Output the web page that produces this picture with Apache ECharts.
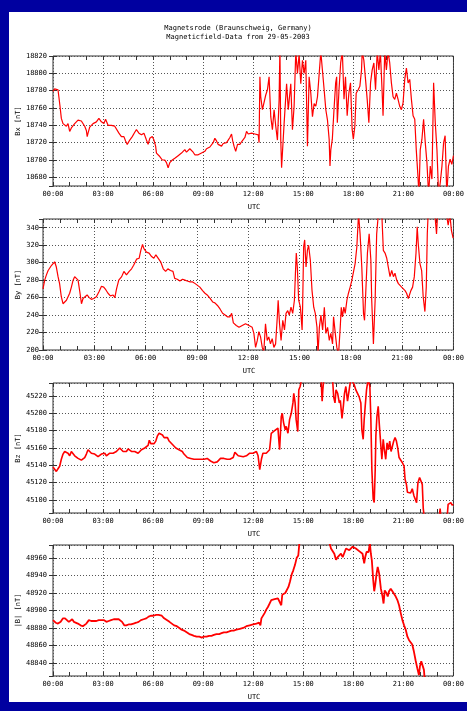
<!DOCTYPE html>
<html>
<head>
<meta charset="utf-8">
<script src="https://cdn.jsdelivr.net/npm/echarts@6/dist/echarts.min.js"></script>
<style>
  html, body { margin: 0; padding: 0; background: #0000a0; }
  #chart { width: 467px; height: 711px; }
</style>
</head>
<body>
<div id="chart"></div>
<script>
// Magnetometer record, Magnetsrode, 29-05-2003. Time in hours UTC, field in nT.
const bxData = [
  [0,18779],[0.1,18782],[0.2,18784],[0.3,18781],[0.42,18762],[0.5,18748],[0.6,18742],[0.7,18741],[0.8,18739],[0.9,18742],
  [1.0,18733],[1.1,18737],[1.2,18739],[1.3,18742],[1.4,18744],[1.5,18746],[1.6,18747],[1.7,18745],[1.8,18743],[1.9,18739],
  [2.0,18734],[2.05,18727],[2.1,18731],[2.2,18738],[2.3,18740],[2.4,18742],[2.5,18741],[2.6,18744],[2.75,18748],[2.9,18744],
  [3.05,18742],[3.15,18747],[3.3,18740],[3.4,18741],[3.5,18740],[3.6,18738],[3.7,18739],[3.8,18737],[3.95,18731],[4.1,18727],
  [4.25,18727],[4.35,18722],[4.45,18718],[4.6,18723],[4.75,18727],[4.9,18732],[5.0,18735],[5.15,18731],[5.3,18729],[5.45,18731],
  [5.6,18723],[5.7,18718],[5.8,18725],[5.95,18727],[6.05,18723],[6.15,18716],[6.2,18708],[6.3,18706],[6.4,18704],[6.55,18700],
  [6.7,18700],[6.8,18697],[6.9,18691],[7.0,18697],[7.15,18700],[7.3,18702],[7.4,18701],[7.5,18705],[7.6,18704],[7.7,18708],
  [7.8,18707],[7.9,18712],[8.0,18709],[8.1,18710],[8.2,18713],[8.3,18711],[8.4,18709],[8.5,18706],[8.6,18708],[8.7,18706],
  [8.8,18707],[8.9,18708],[9.0,18710],[9.1,18710],[9.2,18713],[9.3,18712],[9.4,18715],[9.5,18717],[9.6,18720],[9.7,18725],
  [9.8,18722],[9.9,18718],[10.0,18716],[10.1,18716],[10.2,18719],[10.3,18718],[10.4,18720],[10.5,18723],[10.6,18726],[10.7,18730],
  [10.77,18722],[10.85,18716],[10.95,18710],[11.06,18718],[11.2,18718],[11.3,18721],[11.4,18720],[11.5,18726],[11.6,18733],[11.7,18730],
  [11.8,18729],[11.9,18731],[12.0,18729],[12.1,18730],[12.2,18731],[12.3,18729],[12.35,18720],[12.4,18796],[12.45,18773],[12.55,18758],
  [12.65,18756],[12.75,18775],[12.85,18781],[12.95,18796],[13.05,18750],[13.15,18735],[13.25,18758],[13.35,18739],[13.45,18723],[13.55,18769],
  [13.6,18830],[13.65,18723],[13.7,18691],[13.85,18742],[14.0,18788],[14.1,18758],[14.25,18788],[14.35,18735],[14.45,18762],[14.55,18825],
  [14.65,18800],[14.75,18822],[14.85,18788],[14.95,18815],[15.05,18800],[15.15,18815],[15.25,18716],[15.35,18796],[15.45,18777],[15.55,18750],
  [15.65,18765],[15.75,18762],[15.85,18773],[15.95,18771],[16.05,18825],[16.15,18803],[16.25,18781],[16.35,18758],[16.45,18746],[16.55,18724],
  [16.6,18693],[16.65,18712],[16.74,18724],[16.84,18758],[16.94,18789],[17.0,18796],[17.04,18743],[17.14,18781],[17.24,18812],[17.34,18825],
  [17.44,18770],[17.53,18796],[17.63,18751],[17.73,18777],[17.83,18789],[17.93,18735],[18.0,18724],[18.09,18739],[18.17,18777],[18.29,18781],
  [18.39,18785],[18.49,18804],[18.53,18825],[18.63,18815],[18.73,18793],[18.83,18770],[18.93,18743],[19.03,18789],[19.13,18804],[19.23,18812],
  [19.33,18781],[19.43,18825],[19.53,18804],[19.62,18825],[19.72,18781],[19.78,18751],[19.88,18825],[19.98,18804],[20.08,18825],[20.18,18812],
  [20.28,18789],[20.38,18773],[20.48,18770],[20.58,18777],[20.68,18770],[20.78,18762],[20.88,18758],[20.98,18766],[21.08,18793],[21.18,18806],
  [21.28,18789],[21.38,18793],[21.48,18770],[21.58,18751],[21.68,18747],[21.77,18712],[21.87,18682],[21.93,18660],[22.01,18712],[22.11,18724],
  [22.21,18747],[22.31,18720],[22.41,18697],[22.51,18660],[22.61,18693],[22.71,18678],[22.81,18789],[22.91,18743],[23.01,18712],[23.11,18660],
  [23.21,18674],[23.31,18693],[23.41,18720],[23.5,18728],[23.6,18660],[23.7,18693],[23.8,18701],[23.9,18695],[24.0,18705]
];

const byData = [
  [0,270],[0.1,280],[0.2,286],[0.3,291],[0.4,293],[0.5,297],[0.6,299],[0.68,301],[0.78,295],[0.88,284],
  [0.97,276],[1.07,261],[1.17,253],[1.27,251],[1.37,257],[1.46,259],[1.56,265],[1.66,272],[1.76,280],[1.85,284],
  [1.95,285],[2.05,280],[2.15,267],[2.25,253],[2.34,259],[2.44,261],[2.58,263],[2.7,260],[2.83,258],[2.97,259],
  [3.12,261],[3.28,267],[3.42,273],[3.55,272],[3.67,269],[3.8,265],[3.94,262],[4.1,263],[4.2,260],[4.3,270],
  [4.43,280],[4.6,284],[4.73,290],[4.88,286],[5.04,290],[5.18,293],[5.3,297],[5.47,304],[5.62,305],[5.72,314],
  [5.82,321],[5.9,316],[6.05,312],[6.2,311],[6.35,307],[6.48,305],[6.6,309],[6.74,305],[6.88,301],[7.03,293],
  [7.17,290],[7.3,293],[7.45,291],[7.6,290],[7.7,282],[7.85,281],[8.0,279],[8.16,281],[8.3,280],[8.43,279],
  [8.6,278],[8.75,278],[8.9,276],[9.0,274],[9.17,272],[9.33,268],[9.47,265],[9.6,263],[9.77,259],[9.92,255],
  [10.05,254],[10.2,251],[10.35,247],[10.5,242],[10.65,240],[10.78,238],[10.93,238],[11.03,242],[11.13,231],[11.3,228],
  [11.46,226],[11.65,228],[11.84,230],[12.04,228],[12.23,226],[12.33,219],[12.43,203],[12.53,211],[12.62,221],[12.72,215],
  [12.82,203],[12.91,198],[13.01,230],[13.11,211],[13.2,215],[13.3,207],[13.4,213],[13.5,203],[13.6,207],[13.7,238],
  [13.75,257],[13.83,230],[13.92,211],[14.02,234],[14.12,223],[14.21,242],[14.31,245],[14.4,240],[14.5,249],[14.6,242],
  [14.7,257],[14.76,288],[14.81,311],[14.87,295],[14.95,257],[15.05,249],[15.15,223],[15.18,249],[15.24,318],[15.3,326],
  [15.38,295],[15.46,314],[15.53,320],[15.63,303],[15.73,268],[15.83,249],[15.92,242],[16.02,226],[16.08,195],[16.16,226],
  [16.25,240],[16.35,223],[16.45,249],[16.54,219],[16.64,226],[16.74,211],[16.83,219],[16.93,207],[16.99,238],[17.09,219],
  [17.18,203],[17.28,195],[17.38,226],[17.44,249],[17.51,238],[17.59,249],[17.67,242],[17.77,257],[17.86,265],[17.96,272],
  [18.06,280],[18.16,290],[18.25,299],[18.35,318],[18.45,356],[18.54,333],[18.64,295],[18.74,242],[18.8,234],[18.87,265],
  [18.97,311],[19.07,333],[19.17,303],[19.22,257],[19.32,207],[19.42,257],[19.51,333],[19.61,356],[19.71,358],[19.81,356],
  [19.9,314],[20.0,311],[20.1,305],[20.19,295],[20.29,284],[20.39,291],[20.49,284],[20.58,288],[20.68,280],[20.78,276],
  [20.87,274],[20.97,272],[21.07,270],[21.17,268],[21.26,265],[21.36,259],[21.42,257],[21.51,268],[21.61,272],[21.71,284],
  [21.81,311],[21.88,341],[21.94,322],[22.04,299],[22.14,291],[22.23,261],[22.33,244],[22.41,272],[22.47,333],[22.52,356],
  [22.72,358],[22.91,356],[23.01,333],[23.07,355],[23.3,358],[23.59,355],[23.69,343],[23.79,355],[23.88,337],[23.98,328]
];

const bzData = [
  [0,45138],[0.1,45136],[0.2,45133],[0.3,45136],[0.4,45139],[0.5,45147],[0.6,45153],[0.7,45156],[0.8,45156],[0.9,45154],
  [1.0,45151],[1.1,45156],[1.2,45155],[1.3,45151],[1.4,45150],[1.5,45148],[1.6,45146],[1.7,45146],[1.8,45145],[1.9,45149],
  [2.0,45153],[2.1,45158],[2.2,45157],[2.3,45154],[2.4,45154],[2.5,45153],[2.6,45151],[2.7,45150],[2.8,45151],[2.9,45153],
  [3.0,45151],[3.1,45154],[3.2,45151],[3.3,45153],[3.4,45154],[3.5,45154],[3.6,45154],[3.7,45154],[3.8,45156],[3.9,45158],
  [4.0,45160],[4.1,45158],[4.2,45156],[4.3,45155],[4.4,45156],[4.5,45159],[4.6,45158],[4.7,45156],[4.8,45155],[4.9,45156],
  [5.0,45154],[5.1,45154],[5.2,45156],[5.3,45158],[5.4,45159],[5.5,45160],[5.6,45160],[5.7,45163],[5.77,45169],[5.86,45165],
  [5.96,45164],[6.06,45165],[6.16,45168],[6.26,45174],[6.36,45177],[6.46,45177],[6.56,45175],[6.66,45172],[6.76,45170],[6.86,45172],
  [6.96,45168],[7.06,45166],[7.16,45164],[7.26,45162],[7.36,45160],[7.46,45158],[7.55,45158],[7.65,45156],[7.75,45156],[7.85,45153],
  [7.95,45151],[8.05,45149],[8.15,45149],[8.25,45148],[8.35,45148],[8.45,45147],[8.55,45148],[8.65,45147],[8.75,45146],[8.85,45147],
  [8.95,45146],[9.05,45147],[9.15,45146],[9.24,45148],[9.34,45146],[9.44,45145],[9.54,45144],[9.64,45143],[9.74,45141],[9.84,45144],
  [9.94,45146],[10.04,45148],[10.14,45148],[10.24,45148],[10.34,45148],[10.44,45147],[10.5,45148],[10.6,45147],[10.7,45146],[10.8,45149],
  [10.9,45155],[11.0,45153],[11.1,45151],[11.2,45151],[11.4,45150],[11.59,45151],[11.79,45154],[11.99,45154],[12.19,45156],[12.29,45151],
  [12.39,45135],[12.49,45147],[12.58,45154],[12.68,45156],[12.78,45154],[12.88,45156],[12.98,45158],[13.08,45177],[13.18,45179],[13.28,45180],
  [13.38,45181],[13.48,45183],[13.55,45165],[13.58,45158],[13.68,45196],[13.74,45200],[13.82,45189],[13.92,45181],[13.98,45185],[14.08,45177],
  [14.18,45193],[14.28,45200],[14.38,45212],[14.43,45223],[14.51,45212],[14.57,45193],[14.67,45179],[14.73,45227],[14.81,45231],[14.91,45240],
  [15.3,45245],[15.7,45242],[16.07,45238],[16.13,45214],[16.17,45227],[16.23,45240],[16.5,45245],[16.76,45238],[16.82,45219],[16.9,45212],
  [16.96,45227],[17.06,45223],[17.16,45212],[17.22,45215],[17.32,45194],[17.4,45208],[17.47,45223],[17.55,45231],[17.65,45214],[17.75,45227],
  [17.85,45240],[17.95,45240],[18.05,45233],[18.15,45227],[18.25,45223],[18.35,45219],[18.45,45212],[18.51,45181],[18.59,45170],[18.65,45193],
  [18.71,45208],[18.79,45227],[18.89,45240],[18.99,45231],[19.05,45193],[19.11,45135],[19.19,45101],[19.25,45097],[19.31,45135],[19.35,45174],
  [19.41,45196],[19.49,45208],[19.55,45189],[19.65,45162],[19.71,45147],[19.79,45170],[19.86,45158],[19.94,45147],[20.02,45166],[20.1,45158],
  [20.18,45168],[20.26,45156],[20.34,45162],[20.42,45168],[20.5,45172],[20.58,45168],[20.66,45160],[20.74,45149],[20.84,45147],[20.94,45143],
  [21.04,45139],[21.1,45124],[21.18,45118],[21.24,45109],[21.34,45111],[21.43,45108],[21.53,45113],[21.63,45105],[21.73,45103],[21.79,45097],
  [21.87,45120],[21.97,45126],[22.07,45124],[22.13,45118],[22.19,45090],[22.25,45080],[22.7,45075],[23.15,45080],[23.2,45090],[23.25,45080],
  [23.62,45080],[23.68,45095],[23.76,45094],[23.84,45097],[23.92,45094],[24.0,45095]
];

const btData = [
  [0,48889],[0.16,48886],[0.3,48885],[0.46,48887],[0.6,48891],[0.72,48891],[0.82,48889],[0.95,48887],[1.05,48889],[1.15,48890],
  [1.25,48887],[1.35,48886],[1.49,48885],[1.65,48883],[1.79,48882],[1.89,48883],[2.0,48885],[2.15,48889],[2.29,48888],[2.45,48888],
  [2.6,48888],[2.74,48889],[2.88,48889],[3.04,48889],[3.2,48887],[3.34,48888],[3.48,48889],[3.64,48890],[3.8,48890],[3.94,48890],
  [4.04,48889],[4.14,48887],[4.27,48883],[4.39,48883],[4.53,48884],[4.67,48884],[4.83,48885],[4.99,48886],[5.13,48887],[5.27,48889],
  [5.43,48890],[5.59,48891],[5.73,48893],[5.86,48894],[6.02,48894],[6.18,48895],[6.32,48895],[6.42,48896],[6.52,48894],[6.66,48891],
  [6.82,48889],[6.98,48887],[7.12,48885],[7.26,48883],[7.42,48882],[7.57,48880],[7.71,48878],[7.85,48877],[8.01,48875],[8.17,48873],
  [8.31,48872],[8.45,48871],[8.61,48870],[8.77,48870],[8.91,48869],[9.05,48870],[9.2,48870],[9.36,48871],[9.5,48871],[9.64,48872],
  [9.8,48873],[9.96,48873],[10.1,48874],[10.24,48875],[10.4,48875],[10.56,48876],[10.7,48877],[10.83,48877],[10.99,48878],[11.2,48879],
  [11.4,48880],[11.59,48882],[11.79,48883],[11.99,48884],[12.19,48885],[12.35,48886],[12.43,48883],[12.49,48891],[12.58,48892],[12.68,48897],
  [12.78,48901],[12.88,48904],[12.98,48908],[13.08,48912],[13.18,48914],[13.28,48913],[13.38,48912],[13.48,48914],[13.58,48912],[13.68,48906],
  [13.74,48918],[13.82,48920],[13.92,48920],[14.02,48922],[14.11,48927],[14.2,48933],[14.3,48941],[14.4,48946],[14.5,48952],[14.6,48960],
  [14.7,48963],[14.76,48976],[14.85,48985],[15.5,48995],[16.2,48990],[16.56,48978],[16.66,48971],[16.76,48969],[16.86,48965],[16.96,48958],
  [17.06,48961],[17.16,48963],[17.26,48965],[17.36,48961],[17.46,48960],[17.56,48971],[17.66,48969],[17.76,48969],[17.86,48967],[17.96,48973],
  [18.06,48974],[18.15,48971],[18.25,48969],[18.35,48968],[18.45,48967],[18.55,48965],[18.65,48954],[18.71,48961],[18.79,48967],[18.91,48967],
  [18.99,48977],[19.05,48965],[19.11,48957],[19.19,48935],[19.25,48922],[19.31,48929],[19.39,48942],[19.46,48950],[19.55,48942],[19.65,48925],
  [19.75,48916],[19.81,48908],[19.88,48923],[19.98,48920],[20.06,48916],[20.14,48922],[20.24,48925],[20.34,48922],[20.44,48920],[20.54,48916],
  [20.64,48912],[20.74,48906],[20.84,48897],[20.94,48889],[21.04,48883],[21.14,48878],[21.24,48870],[21.34,48866],[21.43,48864],[21.53,48861],
  [21.63,48853],[21.73,48843],[21.83,48834],[21.93,48826],[21.99,48836],[22.07,48842],[22.17,48843],[22.23,48832],[22.27,48822],[22.5,48810]
];

// Axis ranges for each panel
const yRanges = [[18670, 18820], [200, 350], [45085, 45235], [48825, 48975]];
const yNames = ['Bx [nT]', 'By [nT]', 'Bz [nT]', '|B| [nT]'];
const titleLines = ['Magnetsrode (Braunschweig, Germany)', 'Magneticfield-Data from 29-05-2003'];
const timeRange = [0, 24];

const FONT_FAMILY = '"DejaVu Sans Mono", "Liberation Mono", monospace';
const TEXT_COLOR = '#000';
const FRAME_COLOR = '#333';
const GRID_COLOR = '#555';
const TRACE_COLOR = '#ff0000';

// Panel rectangles (pixels) and trace widths
const layout = [
  { left: 53, top: 56, height: 130, labelMargin: 6, showMax: true, showMin: false, lineWidth: 1.2 },
  { left: 43, top: 219, height: 131, labelMargin: 4, showMax: false, showMin: true, lineWidth: 1.2 },
  { left: 53, top: 383, height: 130, labelMargin: 6, showMax: false, showMin: false, lineWidth: 1.6 },
  { left: 53, top: 545, height: 131, labelMargin: 6, showMax: false, showMin: false, lineWidth: 1.8 }
];
const RIGHT = 12;
const seriesData = [bxData, byData, bzData, btData];

function hourLabel(v) {
  const h = Math.round(v) % 24;
  return (h < 10 ? '0' : '') + h + ':00';
}

const grids = [], xAxes = [], yAxes = [], series = [], graphics = [];

graphics.push({ type: 'rect', z: -10, shape: { x: 9, y: 12, width: 458, height: 690 }, style: { fill: '#ffffff' } });
graphics.push({ type: 'text', x: 238, y: 28, style: { text: titleLines[0], font: '7px ' + FONT_FAMILY, fill: TEXT_COLOR, textAlign: 'center', textVerticalAlign: 'middle' } });
graphics.push({ type: 'text', x: 238, y: 37, style: { text: titleLines[1], font: '7px ' + FONT_FAMILY, fill: TEXT_COLOR, textAlign: 'center', textVerticalAlign: 'middle' } });

layout.forEach((p, i) => {
  grids.push({
    left: p.left, right: RIGHT, top: p.top, height: p.height,
    show: true, borderColor: FRAME_COLOR, borderWidth: 1, backgroundColor: 'transparent'
  });
  const tickStyle = { color: FRAME_COLOR, width: 1 };
  const xCommon = {
    type: 'value', gridIndex: i, min: timeRange[0], max: timeRange[1], interval: 3,
    axisLine: { show: false },
    axisTick: { show: true, inside: true, length: 4, lineStyle: tickStyle },
    minorTick: { show: true, splitNumber: 3, length: 4, lineStyle: tickStyle }
  };
  xAxes.push(Object.assign({}, xCommon, {
    position: 'bottom',
    axisLabel: { show: true, margin: 5, formatter: hourLabel, fontFamily: FONT_FAMILY, fontSize: 7, color: TEXT_COLOR },
    splitLine: { show: true, lineStyle: { color: GRID_COLOR, type: [1, 2], width: 1 } }
  }));
  xAxes.push(Object.assign({}, xCommon, {
    position: 'top',
    axisLabel: { show: false },
    splitLine: { show: false }
  }));
  const yCommon = {
    type: 'value', gridIndex: i, min: yRanges[i][0], max: yRanges[i][1], splitNumber: 7,
    axisLine: { show: false },
    axisTick: { show: true, inside: true, length: 4, lineStyle: tickStyle }
  };
  yAxes.push(Object.assign({}, yCommon, {
    position: 'left',
    axisLabel: {
      show: true, margin: p.labelMargin, fontFamily: FONT_FAMILY, fontSize: 7, color: TEXT_COLOR,
      showMinLabel: p.showMin, showMaxLabel: p.showMax,
      formatter: (v) => String(v)
    },
    splitLine: { show: true, lineStyle: { color: GRID_COLOR, type: [1, 2], width: 1 } }
  }));
  yAxes.push(Object.assign({}, yCommon, {
    position: 'right',
    axisLabel: { show: false },
    splitLine: { show: false }
  }));
  series.push({
    type: 'line', xAxisIndex: 2 * i, yAxisIndex: 2 * i,
    data: seriesData[i], showSymbol: false, symbol: 'none', clip: true,
    lineStyle: { color: TRACE_COLOR, width: p.lineWidth }, animation: false
  });

  const plotBottom = p.top + p.height;
  const plotCenterX = (p.left + (467 - RIGHT)) / 2;
  graphics.push({ type: 'text', x: plotCenterX, y: plotBottom + 21, style: { text: 'UTC', font: '7px ' + FONT_FAMILY, fill: TEXT_COLOR, textAlign: 'center', textVerticalAlign: 'middle' } });
  graphics.push({ type: 'text', x: 18, y: p.top + p.height / 2, rotation: Math.PI / 2, style: { text: yNames[i], font: '7px ' + FONT_FAMILY, fill: TEXT_COLOR, textAlign: 'center', textVerticalAlign: 'middle' } });
});

const chart = echarts.init(document.getElementById('chart'), null, { renderer: 'canvas' });
chart.setOption({
  backgroundColor: '#0000a0',
  animation: false,
  grid: grids,
  xAxis: xAxes,
  yAxis: yAxes,
  series: series,
  graphic: { elements: graphics }
});
</script>
</body>
</html>
